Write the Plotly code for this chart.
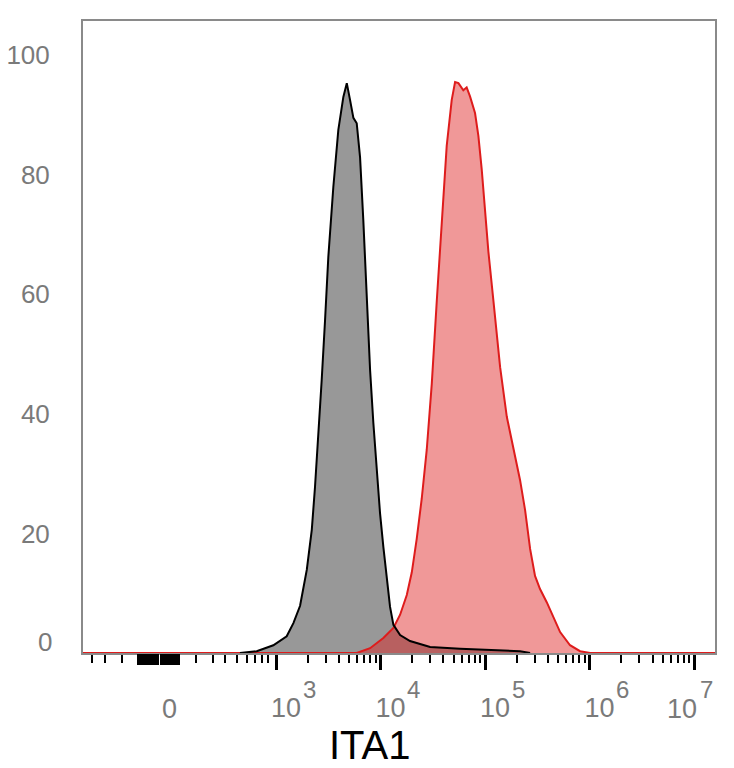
import plotly.graph_objects as go
import math

# ---- data (x in log10 fluorescence units, y in % of max) ----
black_log10_intensity = [2.655, 2.815, 2.974, 3.102, 3.166, 3.230, 3.294, 3.342, 3.373, 3.405,
                         3.437, 3.469, 3.500, 3.548, 3.596, 3.644, 3.677, 3.708, 3.740, 3.772,
                         3.804, 3.835, 3.868, 3.900, 3.931, 3.964, 3.995, 4.027, 4.059, 4.091,
                         4.123, 4.187, 4.282, 4.474, 4.761, 5.048, 5.335, 5.431]
black_percent = [0.0, 0.3, 1.3, 2.8, 5.0, 7.9, 13.9, 20.6, 27.8, 36.1,
                 45.7, 55.7, 66.2, 77.9, 87.5, 93.0, 95.3, 92.5, 89.5, 88.6,
                 82.9, 72.4, 58.5, 47.3, 38.5, 30.6, 23.4, 17.7, 12.2, 7.7,
                 4.7, 3.0, 2.0, 1.0, 0.7, 0.5, 0.3, 0.0]

red_log10_intensity = [1.153, 3.772, 3.900, 4.027, 4.123, 4.187, 4.251, 4.299, 4.346, 4.394,
                       4.442, 4.490, 4.538, 4.586, 4.633, 4.681, 4.713, 4.745, 4.792, 4.824,
                       4.856, 4.904, 4.936, 4.968, 5.000, 5.032, 5.080, 5.144, 5.208, 5.271,
                       5.335, 5.383, 5.431, 5.478, 5.526, 5.590, 5.654, 5.718, 5.813, 5.909,
                       6.005, 7.200]
red_percent = [0.0, 0.0, 0.8, 2.5, 4.2, 6.4, 9.7, 13.5, 19.1, 25.8,
               34.0, 45.0, 58.9, 72.6, 84.8, 92.5, 95.5, 95.3, 94.1, 94.6,
               93.1, 90.3, 86.5, 80.9, 74.2, 67.1, 58.9, 47.8, 39.5, 34.0,
               28.9, 23.9, 17.4, 12.9, 10.7, 8.5, 5.9, 3.5, 1.3, 0.3,
               0.0, 0.0]

x_range = [1.153, 7.20]
y_range = [0, 105.7]
y_tick_vals = [20, 40, 60, 80, 100]
x_major_vals = [3, 4, 5, 6, 7]
x_major_base = ["10", "10", "10", "10", "10"]
x_major_exp = ["3", "4", "5", "6", "7"]
x_zero_label_pos = 1.82
x_minor_low = [1.239, 1.364, 1.526, 2.234, 2.397, 2.512, 2.627, 2.722, 2.799, 2.866, 2.923]
x_block = [round(1.67 + 0.01 * i, 3) for i in range(42)]
x_minor = x_minor_low + [k + math.log10(m) for k in range(3, 7) for m in range(2, 10)]

GRAY_TXT = "#7a7a7a"
FONT = "Liberation Sans, Arial, sans-serif"
FS = 26

fig = go.Figure()
fig.add_trace(go.Scatter(x=black_log10_intensity, y=black_percent, mode="lines",
                         line=dict(width=0, color="rgba(0,0,0,0)"), fill="tozeroy",
                         fillcolor="rgb(152,152,152)", showlegend=False, hoverinfo="skip"))
fig.add_trace(go.Scatter(x=red_log10_intensity, y=red_percent, mode="lines",
                         line=dict(width=2, color="rgb(222,28,28)"), fill="tozeroy",
                         fillcolor="rgba(222,30,30,0.46)", showlegend=False))
fig.add_trace(go.Scatter(x=black_log10_intensity, y=black_percent, mode="lines",
                         line=dict(width=2, color="black"), showlegend=False))
fig.add_trace(go.Scatter(x=[], y=[], xaxis="x2", showlegend=False, hoverinfo="skip"))

annotations = [
    dict(text="0", x=0, xref="paper", y=0, yref="y", xanchor="right", yanchor="middle",
         xshift=-29, yshift=11, showarrow=False,
         font=dict(family=FONT, size=FS, color=GRAY_TXT)),
    dict(text="0", x=x_zero_label_pos, xref="x", y=0, yref="paper", xanchor="center",
         yanchor="middle", yshift=-56, xshift=17, showarrow=False,
         font=dict(family=FONT, size=27, color=GRAY_TXT)),
    dict(text="ITA1", x=0.454, xref="paper", y=0, yref="paper", xanchor="center",
         yanchor="middle", yshift=-92, showarrow=False,
         font=dict(family=FONT, size=40, color="black")),
]
# tick labels: base "10" via axis for all but the last (which is pulled left to fit)
tick_text = list(x_major_base[:-1]) + [""]
annotations.append(dict(text=x_major_base[-1], x=x_major_vals[-1], xref="x", y=0, yref="paper",
                        xanchor="center", yanchor="middle", xshift=-12, yshift=-56,
                        showarrow=False, font=dict(family=FONT, size=27, color=GRAY_TXT)))
exp_shifts = [33, 33, 33, 33, 12]
for xv, e, sh in zip(x_major_vals, x_major_exp, exp_shifts):
    annotations.append(dict(text=e, x=xv, xref="x", y=0, yref="paper", xanchor="center",
                            yanchor="middle", xshift=sh, yshift=-36, showarrow=False,
                            font=dict(family=FONT, size=24, color=GRAY_TXT)))

fig.update_layout(
    width=734, height=768,
    margin=dict(l=83, r=19, t=21, b=115, autoexpand=False),
    paper_bgcolor="white", plot_bgcolor="white",
    font=dict(family=FONT, color=GRAY_TXT, size=FS),
    xaxis=dict(
        range=x_range, showgrid=False, zeroline=False, automargin=False,
        showline=True, mirror=True, linecolor="#8a8a8a", linewidth=2,
        layer="below traces",
        tickmode="array", tickvals=x_major_vals, ticktext=tick_text,
        ticks="outside", ticklen=15, tickwidth=3, tickcolor="black",
        ticklabelshift=10, ticklabelstandoff=15,
        tickfont=dict(family=FONT, size=27, color=GRAY_TXT),
        minor=dict(tickmode="array", tickvals=x_minor, ticks="outside",
                   ticklen=8, tickwidth=1.5, tickcolor="black", showgrid=False),
    ),
    xaxis2=dict(
        range=x_range, overlaying="x", anchor="y", side="bottom", automargin=False,
        showgrid=False, zeroline=False, showline=False, showticklabels=False,
        tickmode="array", tickvals=x_block, ticks="outside", ticklen=11,
        tickwidth=1.3, tickcolor="black",
    ),
    yaxis=dict(
        range=y_range, showgrid=False, zeroline=False, automargin=False,
        showline=True, mirror=True, linecolor="#8a8a8a", linewidth=2,
        tickmode="array", tickvals=y_tick_vals, ticks="",
        ticklabelstandoff=26,
        tickfont=dict(family=FONT, size=FS, color=GRAY_TXT),
    ),
    annotations=annotations,
)

fig.write_html("out.html")
